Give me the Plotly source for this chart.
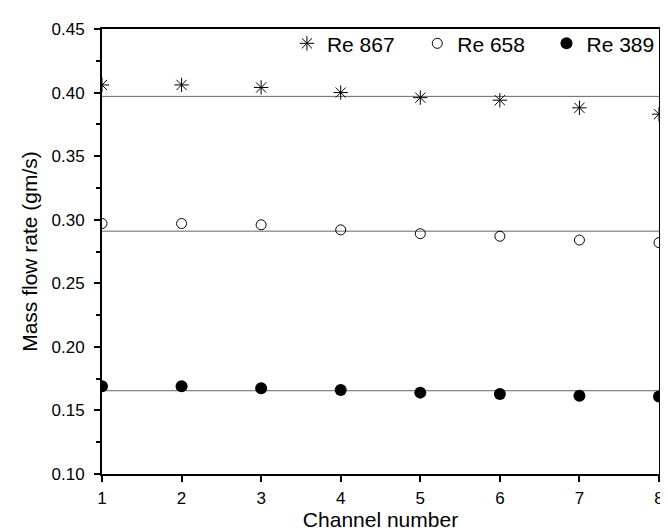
import plotly.graph_objects as go

channels = [1, 2, 3, 4, 5, 6, 7, 8]
re867 = [0.406, 0.406, 0.404, 0.400, 0.396, 0.394, 0.388, 0.383]
re658 = [0.297, 0.297, 0.296, 0.292, 0.289, 0.287, 0.284, 0.282]
re389 = [0.169, 0.169, 0.1675, 0.166, 0.164, 0.163, 0.1615, 0.161]
fit_levels = [0.397, 0.291, 0.1655]
series_names = ["Re 867", "Re 658", "Re 389"]

fig = go.Figure()

line_x = [channels[0], channels[-1]]
for lvl in fit_levels:
    fig.add_trace(go.Scatter(x=line_x, y=[lvl, lvl], mode="lines",
                             line=dict(color="#666666", width=1),
                             showlegend=False, hoverinfo="skip"))

fig.add_trace(go.Scatter(x=channels, y=re867, mode="markers", name=series_names[0],
                         marker=dict(symbol="asterisk-open", size=12,
                                     line=dict(color="black", width=1), color="black"),
                         legend="legend"))
fig.add_trace(go.Scatter(x=channels, y=re658, mode="markers", name=series_names[1],
                         marker=dict(symbol="circle-open", size=10,
                                     line=dict(color="black", width=1), color="black"),
                         legend="legend2"))
fig.add_trace(go.Scatter(x=channels, y=re389, mode="markers", name=series_names[2],
                         marker=dict(symbol="circle", size=12, color="black"),
                         legend="legend3"))

font_family = "Liberation Sans, Arial, sans-serif"
leg_common = dict(yanchor="middle", y=0.967, xanchor="left", bgcolor="rgba(0,0,0,0)",
                  font=dict(family=font_family, size=21, color="black"),
                  itemsizing="trace")

fig.update_layout(
    width=668, height=531,
    margin=dict(l=94, r=14, t=16, b=64),
    paper_bgcolor="white", plot_bgcolor="white",
    font=dict(family=font_family, color="black"),
    legend=dict(x=0.332, **leg_common),
    legend2=dict(x=0.566, **leg_common),
    legend3=dict(x=0.798, **leg_common),
    xaxis=dict(range=[1, 8], dtick=1, tick0=1, showline=True, linecolor="black",
               linewidth=2, mirror=True, ticks="outside", ticklen=6, tickwidth=1.5,
               tickcolor="black", showgrid=False, zeroline=False,
               tickfont=dict(size=17, family=font_family), ticklabelstandoff=2,
               title=dict(text="Channel number", font=dict(size=21, family=font_family),
                          standoff=4)),
    yaxis=dict(range=[0.10, 0.45], dtick=0.05, tick0=0.10, tickformat=".2f",
               showline=True, linecolor="black", linewidth=2, mirror=True,
               ticks="outside", ticklen=6, tickwidth=1.5, tickcolor="black",
               minor=dict(dtick=0.025, ticks="outside", ticklen=4, tickwidth=1.5,
                          tickcolor="black", showgrid=False),
               showgrid=False, zeroline=False,
               tickfont=dict(size=17, family=font_family), ticklabelstandoff=6,
               title=dict(text="Mass flow rate (gm/s)", font=dict(size=21, family=font_family),
                          standoff=8)),
)

fig.write_html("out.html")
